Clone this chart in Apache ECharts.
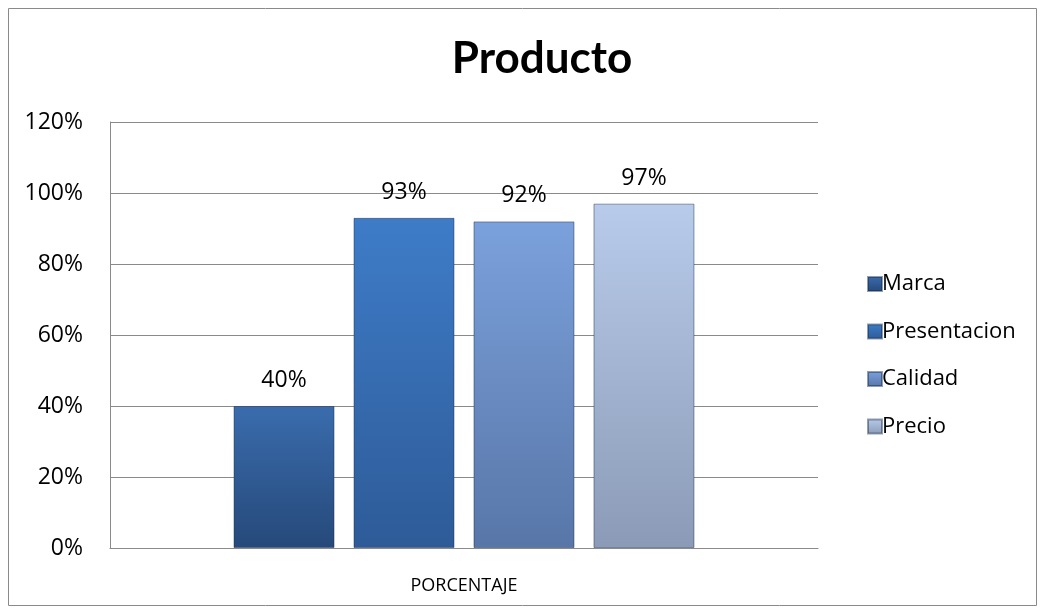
<!DOCTYPE html>
<html><head><meta charset="utf-8">
<script src="https://cdn.jsdelivr.net/npm/echarts@6/dist/echarts.min.js"></script>
<style>html,body{margin:0;padding:0;background:#fff}#c{width:1040px;height:610px}</style>
</head><body><div id="c"></div>
<script>
const categories = ['PORCENTAJE'];
const seriesNames = ['Marca', 'Presentacion', 'Calidad', 'Precio'];
const marca = [40];
const presentacion = [93];
const calidad = [92];
const precio = [97];
const yTicks = [0, 20, 40, 60, 80, 100, 120];

const values = [marca, presentacion, calidad, precio];
const grads = [
  ['#3a6cad', '#26497a'],
  ['#3e7cc8', '#2e5b98'],
  ['#7ba1dc', '#5876a8'],
  ['#b8cbea', '#8b9bb7']
];
const chart = echarts.init(document.getElementById('c'));
const font = '"Open Sans", sans-serif';
chart.setOption({
  animation: false,
  title: { text: 'Producto', left: 537, top: 32, textAlign: 'center',
    textStyle: { fontFamily: 'Lato, sans-serif', fontWeight: 'bold', fontSize: 44, color: '#000' } },
  graphic: [{ type: 'rect', shape: { x: 8.5, y: 8.5, width: 1028, height: 597 },
    style: { fill: 'none', stroke: '#8a8a8a', lineWidth: 1 }, silent: true }],
  legend: {
    orient: 'vertical', left: 862, top: 268, itemGap: 25.5, itemWidth: 14, itemHeight: 14,
    icon: 'rect', data: seriesNames,
    textStyle: { fontFamily: font, fontSize: 22, lineHeight: 22, color: '#000', padding: [0, 0, 0, -5] }
  },
  grid: { left: 110, right: 222, top: 122, bottom: 62 },
  xAxis: {
    type: 'category', data: categories,
    axisLine: { lineStyle: { color: '#8a8a8a' } }, axisTick: { show: false },
    axisLabel: { fontFamily: font, fontSize: 18, color: '#000', margin: 29 }
  },
  yAxis: {
    type: 'value', min: yTicks[0], max: yTicks[yTicks.length - 1], interval: 20,
    axisLine: { show: true, lineStyle: { color: '#8a8a8a' } }, axisTick: { show: false },
    splitLine: { lineStyle: { color: '#8a8a8a' } },
    axisLabel: { fontFamily: font, fontSize: 23, color: '#000', margin: 27, formatter: v => v + '%' }
  },
  series: seriesNames.map((n, i) => ({
    name: n, type: 'bar', data: values[i], barWidth: 101, barGap: '18.8%',
    itemStyle: {
      color: new echarts.graphic.LinearGradient(0, 0, 0, 1, [
        { offset: 0, color: grads[i][0] }, { offset: 1, color: grads[i][1] }]),
      borderColor: 'rgba(20,40,70,0.45)', borderWidth: 1
    },
    label: { show: true, position: 'top', distance: 14, formatter: p => p.value + '%',
      fontFamily: font, fontSize: 23, color: '#000' }
  }))
});
</script></body></html>
